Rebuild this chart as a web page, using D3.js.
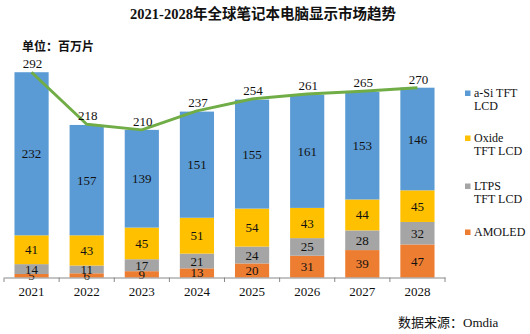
<!DOCTYPE html>
<html lang="zh">
<head>
<meta charset="UTF-8">
<title>2021-2028年全球笔记本电脑显示市场趋势</title>
<script src="https://d3js.org/d3.v7.min.js"></script>
<style>
    body { margin: 0; background: #fff; }
    svg text { font-family: "Liberation Serif", "Noto Sans CJK SC", serif; fill: #111; }
</style>
</head>
<body>
<svg width="530" height="334"></svg>
<script>
    // 年份与各技术出货量（百万片）
    const years = ["2021", "2022", "2023", "2024", "2025", "2026", "2027", "2028"];
    const amoled = [5, 6, 9, 13, 20, 31, 39, 47];
    const ltps = [14, 11, 17, 21, 24, 25, 28, 32];
    const oxide = [41, 43, 45, 51, 54, 43, 44, 45];
    const aSi = [232, 157, 139, 151, 155, 161, 153, 146];
    const totals = [292, 218, 210, 237, 254, 261, 265, 270];

    // 堆叠顺序：自下而上
    const series = [
        { key: "AMOLED", values: amoled, color: "#ed7d31" },
        { key: "LTPS", values: ltps, color: "#a5a5a5" },
        { key: "Oxide", values: oxide, color: "#ffc000" },
        { key: "aSi", values: aSi, color: "#5b9bd5" }
    ];
    const legendItems = [
        { lines: ["a-Si TFT", "LCD"], color: "#5b9bd5", y: 93 },
        { lines: ["Oxide", "TFT LCD"], color: "#ffc000", y: 138 },
        { lines: ["LTPS", "TFT LCD"], color: "#a5a5a5", y: 186 },
        { lines: ["AMOLED"], color: "#ed7d31", y: 232 }
    ];

    const svg = d3.select("svg");
    const baseY = 277.5;

    const x = d3.scaleBand()
        .domain(years)
        .range([4, 445])
        .paddingInner(0.38)
        .paddingOuter(0.19);

    const y = d3.scaleLinear()
        .domain([0, 300])
        .range([baseY, 66.6]);

    // 标题
    svg.append("text")
        .attr("x", 263).attr("y", 19)
        .attr("text-anchor", "middle")
        .attr("font-size", "14.5px")
        .attr("font-weight", "bold")
        .text("2021-2028年全球笔记本电脑显示市场趋势");

    svg.append("text")
        .attr("x", 22).attr("y", 51)
        .attr("font-size", "12px")
        .attr("font-weight", "bold")
        .text("单位：百万片");

    // 堆叠柱
    const rows = years.map((yr, i) => {
        const r = { year: yr };
        series.forEach(s => r[s.key] = s.values[i]);
        return r;
    });
    const stack = d3.stack().keys(series.map(s => s.key))(rows);

    stack.forEach((layer, li) => {
        const g = svg.append("g");
        g.selectAll("rect")
            .data(layer)
            .enter().append("rect")
            .attr("x", d => x(d.data.year))
            .attr("y", d => y(d[1]))
            .attr("width", x.bandwidth())
            .attr("height", d => y(d[0]) - y(d[1]))
            .attr("fill", series[li].color);

        g.selectAll("text")
            .data(layer)
            .enter().append("text")
            .attr("x", d => x(d.data.year) + x.bandwidth() / 2)
            .attr("y", d => (y(d[0]) + y(d[1])) / 2)
            .attr("dy", "0.35em")
            .attr("text-anchor", "middle")
            .attr("font-size", "13px")
            .text(d => d[1] - d[0]);
    });

    // 坐标轴
    const axis = svg.append("g")
        .attr("transform", `translate(0,${baseY})`)
        .call(d3.axisBottom(x).tickSize(0).tickPadding(9));
    axis.select(".domain").attr("stroke", "#888").attr("stroke-width", 1);
    axis.selectAll("text")
        .attr("font-size", "13px")
        .attr("font-family", "Liberation Serif, serif")
        .attr("fill", "#111");

    const bounds = years.map(yr => x(yr) - x.step() * x.paddingInner() / 2)
        .concat([x(years[years.length - 1]) + x.bandwidth() + x.step() * x.paddingInner() / 2]);
    bounds[0] = 4;
    bounds[bounds.length - 1] = 445;
    svg.append("g").selectAll("line")
        .data(bounds)
        .enter().append("line")
        .attr("x1", d => d).attr("x2", d => d)
        .attr("y1", baseY).attr("y2", baseY + 4.5)
        .attr("stroke", "#888");

    // 总量折线
    const line = d3.line()
        .x((d, i) => x(years[i]) + x.bandwidth() / 2)
        .y(d => y(d));
    svg.append("path")
        .datum(totals)
        .attr("d", line)
        .attr("fill", "none")
        .attr("stroke", "#70ad47")
        .attr("stroke-width", 3)
        .attr("stroke-linejoin", "round");

    svg.append("g").selectAll("text")
        .data(totals)
        .enter().append("text")
        .attr("x", (d, i) => x(years[i]) + x.bandwidth() / 2 + 1)
        .attr("y", d => y(d) - 4)
        .attr("text-anchor", "middle")
        .attr("font-size", "13px")
        .text(d => d);

    // 图例
    const legend = svg.append("g");
    legendItems.forEach(item => {
        legend.append("rect")
            .attr("x", 465).attr("y", item.y - 2.5)
            .attr("width", 5.5).attr("height", 5.5)
            .attr("fill", item.color);
        item.lines.forEach((t, k) => {
            legend.append("text")
                .attr("x", 474)
                .attr("y", item.y + k * 12.5)
                .attr("dy", "0.35em")
                .attr("font-size", "12px")
                .text(t);
        });
    });

    // 数据来源
    svg.append("text")
        .attr("x", 398).attr("y", 327)
        .attr("font-size", "13px")
        .text("数据来源：Omdia");
</script>
</body>
</html>
